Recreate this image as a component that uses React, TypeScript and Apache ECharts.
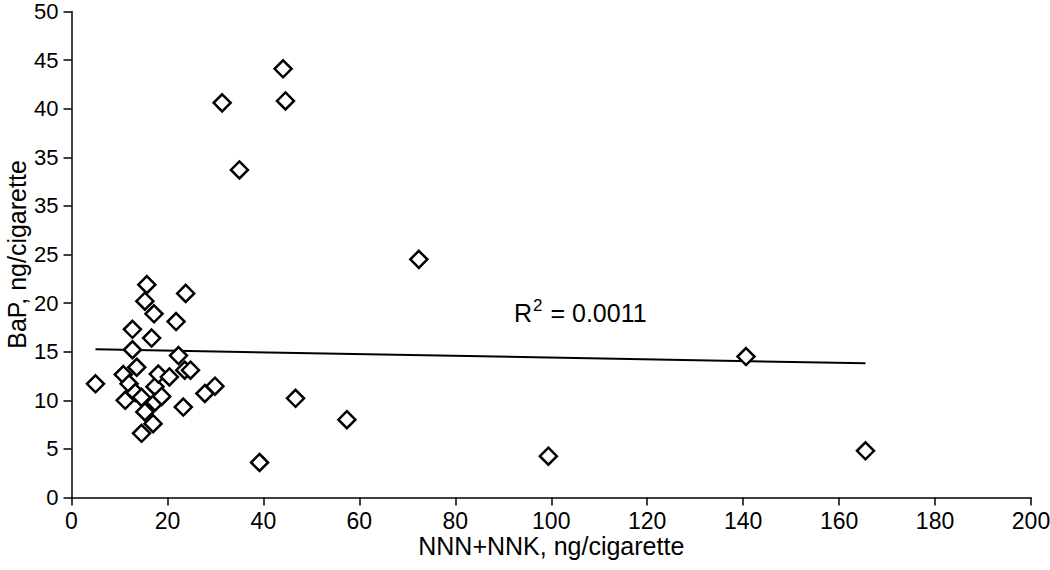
import { useEffect, useRef } from "react";
import * as echarts from "echarts";

// NNN+NNK (ng/cigarette) of each sample
const nnnNnk = [
  31.4, 44.1, 44.6, 35.0, 72.4, 46.7, 57.4, 39.2, 99.4, 140.6, 165.5,
  5.0, 10.8, 11.2, 12.7, 12.7, 13.6, 12.0, 13.3, 14.6, 15.3, 14.6,
  15.7, 15.3, 17.2, 16.7, 17.4, 17.4, 17.0, 18.1, 18.8, 20.4, 21.8,
  23.8, 22.3, 23.6, 24.8, 23.3, 27.8, 29.9,
];
// BaP (ng/cigarette) of each sample
const bap = [
  40.6, 44.1, 40.8, 33.7, 24.5, 10.2, 8.0, 3.6, 4.25, 14.5, 4.8,
  11.7, 12.65, 10.0, 17.3, 15.2, 13.4, 11.7, 10.8, 10.3, 8.8, 6.6,
  21.9, 20.2, 18.9, 16.4, 11.4, 9.8, 7.6, 12.7, 10.4, 12.4, 18.1,
  21.0, 14.6, 13.1, 13.1, 9.3, 10.7, 11.45,
];

// linear trend line end points
const trendX = [5.0, 165.5];
const trendY = [15.25, 13.8];

const yTickLabels = ["0", "5", "10", "15", "20", "25", "35", "35", "40", "45", "50"];
const xAxisTitle = "NNN+NNK, ng/cigarette";
const yAxisTitle = "BaP, ng/cigarette";
const r2Value = "0.0011";

const FONT = "'Liberation Sans', Arial, sans-serif";

export default function App() {
  const ref = useRef<HTMLDivElement>(null);

  useEffect(() => {
    if (!ref.current) return;
    const chart = echarts.init(ref.current, null, { renderer: "svg" });

    const points = nnnNnk.map((x, i) => [x, bap[i]]);
    const trend = trendX.map((x, i) => [x, trendY[i]]);

    chart.setOption({
      animation: false,
      backgroundColor: "#ffffff",
      textStyle: { fontFamily: FONT, color: "#000" },
      grid: {
        left: 71.5,
        right: 19,
        top: 11.5,
        bottom: 72.5,
        containLabel: false,
        outerBoundsMode: "none",
      },
      xAxis: {
        type: "value",
        min: 0,
        max: 200,
        interval: 20,
        name: xAxisTitle,
        nameLocation: "middle",
        nameGap: 36,
        nameMoveOverlap: false,
        nameTextStyle: { fontSize: 25, color: "#000", fontFamily: FONT },
        axisLine: { show: true, lineStyle: { color: "#000", width: 1.5 } },
        axisTick: { show: true, length: 8, lineStyle: { color: "#000", width: 1.5 } },
        axisLabel: { margin: 12, fontSize: 23, color: "#000", fontFamily: FONT },
        splitLine: { show: false },
      },
      yAxis: {
        type: "value",
        min: 0,
        max: 50,
        interval: 5,
        name: yAxisTitle,
        nameLocation: "middle",
        nameRotate: 90,
        nameGap: 42,
        nameMoveOverlap: false,
        nameTextStyle: { fontSize: 25, lineHeight: 25, color: "#000", fontFamily: FONT },
        axisLine: { show: true, lineStyle: { color: "#000", width: 1.5 } },
        axisTick: { show: true, length: 8, lineStyle: { color: "#000", width: 1.5 } },
        axisLabel: {
          margin: 13,
          fontSize: 22,
          lineHeight: 18,
          color: "#000",
          fontFamily: FONT,
          formatter: (v: number) => yTickLabels[Math.round(v / 5)] ?? String(v),
        },
        splitLine: { show: false },
      },
      series: [
        {
          type: "line",
          data: trend,
          symbol: "none",
          lineStyle: { color: "#000", width: 2 },
          z: 1,
          silent: true,
        },
        {
          type: "scatter",
          data: points,
          symbol: "diamond",
          symbolSize: 17,
          itemStyle: { color: "#fff", borderColor: "#000", borderWidth: 2.5, opacity: 1 },
          z: 3,
        },
      ],
      graphic: [
        {
          type: "text",
          left: 514,
          top: 297,
          style: {
            text: "{a|R}{s|2}{a| = " + r2Value + "}",
            fontFamily: FONT,
            fill: "#000",
            rich: {
              a: { fontSize: 25, lineHeight: 28, fontFamily: FONT, fill: "#000", verticalAlign: "bottom" },
              s: { fontSize: 17, lineHeight: 20, fontFamily: FONT, fill: "#000", verticalAlign: "top", padding: [0, 1, 0, 1] },
            },
          },
        },
      ],
    });

    return () => chart.dispose();
  }, []);

  return (
    <div
      ref={ref}
      style={{ position: "fixed", left: 0, top: 0, width: 1050, height: 570, background: "#fff" }}
    />
  );
}
